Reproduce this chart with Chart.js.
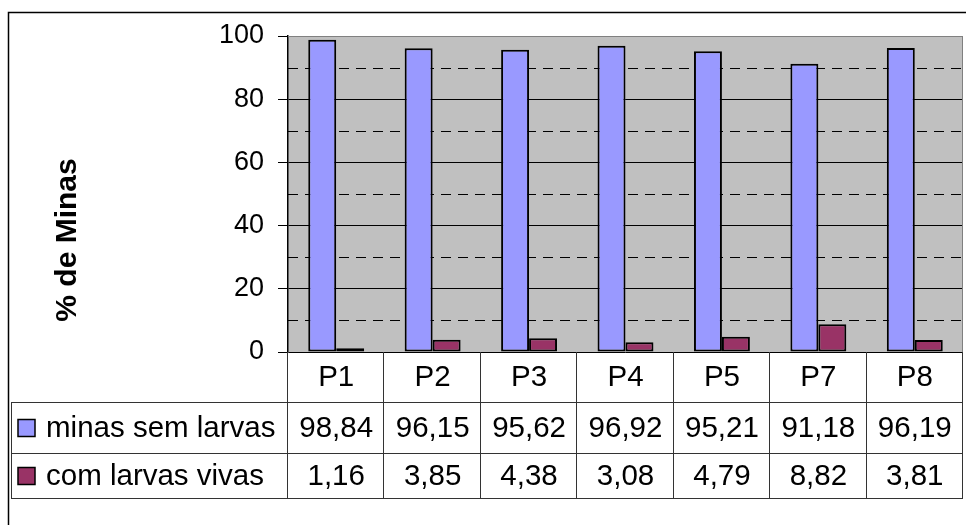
<!DOCTYPE html>
<html>
<head>
<meta charset="utf-8">
<script src="https://cdn.jsdelivr.net/npm/chart.js@4/dist/chart.umd.min.js"></script>
<style>
  html, body { margin: 0; padding: 0; background: #fff; }
  #wrap { width: 966px; height: 525px; }
</style>
</head>
<body>
<div id="wrap"><canvas id="c" width="966" height="525"></canvas></div>
<script>
// Plots sampled
const categories = ['P1', 'P2', 'P3', 'P4', 'P5', 'P7', 'P8'];
// Percentage of mines without larvae
const minasSemLarvas = [98.84, 96.15, 95.62, 96.92, 95.21, 91.18, 96.19];
// Percentage of mines with live larvae
const comLarvasVivas = [1.16, 3.85, 4.38, 3.08, 4.79, 8.82, 3.81];
const seriesNames = ['minas sem larvas', 'com larvas vivas'];
const yTicks = [0, 20, 40, 60, 80, 100];
const yMinorLines = [10, 30, 50, 70, 90];

const FONT = '"Liberation Sans", Arial, sans-serif';
const BLUE = '#9999FF';
const MAROON = '#993366';

const fmt = v => v.toFixed(2).replace('.', ',');

// Grey plot background, dashed minor grid lines
const plotBg = {
  id: 'plotBg',
  beforeDraw(chart) {
    const { ctx, chartArea: a } = chart;
    ctx.save();
    ctx.fillStyle = '#C0C0C0';
    ctx.fillRect(a.left, a.top, a.right - a.left, a.bottom - a.top);
    ctx.restore();
  },
  beforeDatasetsDraw(chart) {
    const { ctx, chartArea: a, scales: { y } } = chart;
    ctx.save();
    ctx.strokeStyle = '#000';
    ctx.lineWidth = 1;
    ctx.setLineDash([10, 7]);
    yMinorLines.forEach(v => {
      const py = Math.round(y.getPixelForValue(v)) + 0.5;
      ctx.beginPath();
      ctx.moveTo(a.left, py);
      ctx.lineTo(a.right, py);
      ctx.stroke();
    });
    ctx.setLineDash([]);
    ctx.strokeStyle = '#808080';
    ctx.beginPath();
    ctx.moveTo(a.left, a.top + 0.5);
    ctx.lineTo(a.right - 0.5, a.top + 0.5);
    ctx.lineTo(a.right - 0.5, a.bottom);
    ctx.stroke();
    ctx.restore();
  }
};

// Data table under the plot, outer frame and axis title
const dataTable = {
  id: 'dataTable',
  afterDraw(chart) {
    const { ctx, chartArea: a, scales: { x } } = chart;
    const r0 = a.bottom, r1 = 402, r2 = 453, r3 = 498;
    const tableLeft = 11;
    const n = categories.length;
    const colW = (a.right - a.left) / n;
    ctx.save();
    ctx.lineWidth = 1;
    ctx.strokeStyle = '#333';
    // vertical cell borders
    for (let i = 0; i <= n; i++) {
      const px = Math.round(a.left + i * colW) - 0.5;
      ctx.beginPath();
      ctx.moveTo(px, r0);
      ctx.lineTo(px, r3);
      ctx.stroke();
    }
    ctx.beginPath();
    ctx.moveTo(tableLeft + 0.5, r1);
    ctx.lineTo(tableLeft + 0.5, r3);
    ctx.stroke();
    [r1, r2, r3].forEach(ry => {
      ctx.beginPath();
      ctx.moveTo(tableLeft, ry + 0.5);
      ctx.lineTo(a.right, ry + 0.5);
      ctx.stroke();
    });

    ctx.fillStyle = '#000';
    ctx.font = '29.5px ' + FONT;
    ctx.textAlign = 'center';
    ctx.textBaseline = 'middle';
    categories.forEach((c, i) => {
      const cx = x.getPixelForValue(i);
      ctx.fillText(c, cx, (r0 + r1) / 2 + 1);
      ctx.fillText(fmt(minasSemLarvas[i]), cx, (r1 + r2) / 2 + 1);
      ctx.fillText(fmt(comLarvasVivas[i]), cx, (r2 + r3) / 2 + 1);
    });

    // legend keys and series names
    const rows = [[(r1 + r2) / 2, BLUE], [(r2 + r3) / 2, MAROON]];
    ctx.textAlign = 'left';
    rows.forEach(([cy, col], k) => {
      ctx.fillStyle = col;
      ctx.fillRect(18, cy - 8, 17, 17);
      ctx.strokeStyle = '#000';
      ctx.lineWidth = 1.5;
      ctx.strokeRect(18, cy - 8, 17, 17);
      ctx.fillStyle = '#000';
      ctx.fillText(seriesNames[k], 46, cy + 1);
    });

    // axis title
    ctx.save();
    ctx.translate(68, 240);
    ctx.rotate(-Math.PI / 2);
    ctx.textAlign = 'center';
    ctx.textBaseline = 'middle';
    ctx.font = 'bold 30px ' + FONT;
    ctx.fillText('% de Minas', 0, 0);
    ctx.restore();

    // chart frame
    ctx.strokeStyle = '#000';
    ctx.lineWidth = 1.5;
    ctx.beginPath();
    ctx.moveTo(8.5, chart.height);
    ctx.lineTo(8.5, 12.5);
    ctx.lineTo(chart.width, 12.5);
    ctx.stroke();
    ctx.restore();
  }
};

new Chart(document.getElementById('c'), {
  type: 'bar',
  data: {
    labels: categories,
    datasets: [
      { label: seriesNames[0], data: minasSemLarvas, backgroundColor: BLUE,
        borderColor: '#000', borderWidth: 2, borderSkipped: false },
      { label: seriesNames[1], data: comLarvasVivas, backgroundColor: MAROON,
        borderColor: '#000', borderWidth: 2, borderSkipped: false }
    ]
  },
  options: {
    responsive: false,
    animation: false,
    layout: { padding: { left: 0, right: 3, top: 36, bottom: 173 } },
    datasets: { bar: { categoryPercentage: 0.58, barPercentage: 1 } },
    plugins: { legend: { display: false }, tooltip: { enabled: false } },
    scales: {
      x: { display: false },
      y: {
        min: 0, max: 100,
        afterFit: s => { s.width = 288; },
        afterBuildTicks: s => { s.ticks = yTicks.map(v => ({ value: v })); },
        ticks: { color: '#000', font: { family: FONT, size: 27 }, padding: 14 },
        grid: {
          color: c => c.tick && c.tick.value === 100 ? '#808080' : '#000',
          tickColor: '#000', tickLength: 10, lineWidth: 1
        },
        border: { color: '#000', width: 1.5 }
      }
    }
  },
  plugins: [plotBg, dataTable]
});
</script>
</body>
</html>
